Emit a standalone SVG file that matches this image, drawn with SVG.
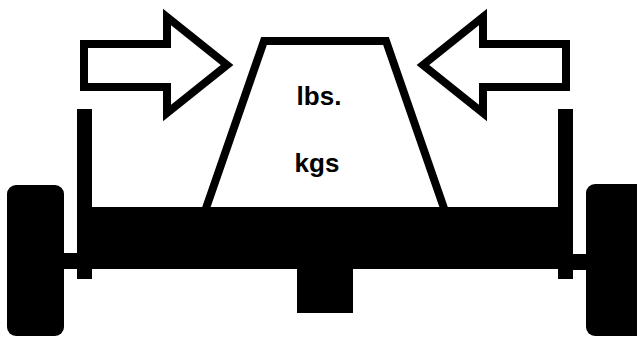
<svg xmlns="http://www.w3.org/2000/svg" width="637" height="337" viewBox="0 0 637 337">
  <style>
    .outline { fill: #fff; stroke: #000; stroke-width: 8; stroke-linejoin: miter; stroke-miterlimit: 10; }
    .solid { fill: #000; }
    .label { font-family: "Liberation Sans", Arial, sans-serif; font-weight: bold; font-size: 26px; fill: #000; text-anchor: middle; }
  </style>
  <rect width="637" height="337" fill="#fff"/>

  <!-- load block (trapezoid) -->
  <g id="load">
    <path class="outline" d="M264,41 L386,41 L446,214 L204,214 Z"/>
    <text class="label" x="319" y="105">lbs.</text>
    <text class="label" x="317" y="172">kgs</text>
  </g>

  <!-- axle, posts and hub -->
  <g id="axle">
    <rect class="solid" x="77" y="109" width="15" height="170"/>
    <rect class="solid" x="558" y="109" width="15" height="170"/>
    <rect class="solid" x="91" y="207" width="468" height="62"/>
    <rect class="solid" x="60" y="253" width="20" height="16"/>
    <rect class="solid" x="570" y="254" width="20" height="16"/>
    <rect class="solid" x="297" y="268" width="56" height="45"/>
  </g>

  <!-- wheels -->
  <g id="wheel-left">
    <rect class="solid" x="7" y="185" width="57" height="151" rx="9" ry="9"/>
  </g>
  <g id="wheel-right">
    <rect class="solid" x="586" y="184" width="60" height="152" rx="9" ry="9"/>
  </g>

  <!-- squeeze arrows -->
  <g id="connectors">
    <g id="arrow-left">
      <path class="outline" d="M84,44 L167,44 L167,17 L227,65 L167,113 L167,87 L84,87 Z"/>
    </g>
    <g id="arrow-right">
      <path class="outline" d="M566,44 L483,44 L483,17 L423,65 L483,113 L483,87 L566,87 Z"/>
    </g>
  </g>
</svg>
